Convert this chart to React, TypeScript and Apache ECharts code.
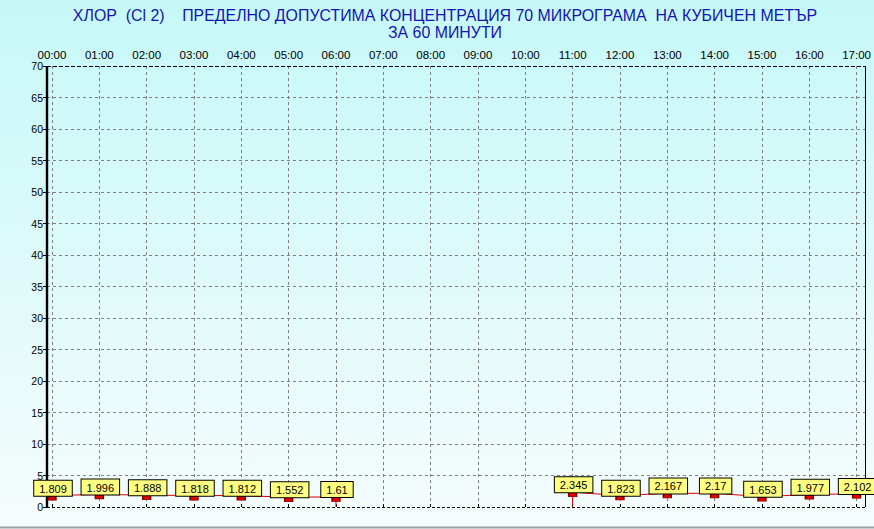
import React, { useEffect, useRef } from 'react';
import * as echarts from 'echarts';

const hourLabels = [
  '00:00', '01:00', '02:00', '03:00', '04:00', '05:00', '06:00', '07:00', '08:00',
  '09:00', '10:00', '11:00', '12:00', '13:00', '14:00', '15:00', '16:00', '17:00',
];
const chlorine: (number | null)[] = [
  1.809, 1.996, 1.888, 1.818, 1.812, 1.552, 1.61, null, null, null, null,
  2.345, 1.823, 2.167, 2.17, 1.653, 1.977, 2.102,
];
const yMin = 0;
const yMax = 70;
const yStep = 5;
const titleLine1 = 'ХЛОР  (Cl 2)    ПРЕДЕЛНО ДОПУСТИМА КОНЦЕНТРАЦИЯ 70 МИКРОГРАМА  НА КУБИЧЕН МЕТЪР';
const titleLine2 = 'ЗА 60 МИНУТИ';

const W = 874;
const H = 529;
const PL = 47, PR = 865, PT = 66, PB = 507;

export default function App() {
  const ref = useRef<HTMLDivElement>(null);
  useEffect(() => {
    if (!ref.current) return;
    const chart = echarts.init(ref.current, undefined, { renderer: 'svg' });

    const n = chlorine.length;
    const lineData: any[] = [];
    chlorine.forEach((v, i) => {
      if (v == null) {
        if (i > 0 && chlorine[i - 1] != null) lineData.push([i - 1, 0]);
        lineData.push([i, '-']);
        if (i < n - 1 && chlorine[i + 1] != null) lineData.push([i + 1, 0]);
      } else {
        lineData.push([i, v]);
      }
    });
    const pointData = chlorine
      .map((v, i) => (v == null ? null : [i, v]))
      .filter((d) => d != null);

    const axisFont = "'Liberation Sans Narrow', 'Arial Narrow', Arial, 'Liberation Sans', sans-serif";
    const sans = "Arial, 'Liberation Sans', sans-serif";

    chart.setOption({
      animation: false,
      backgroundColor: 'transparent',
      grid: [
        { left: 52, right: 13, top: PT, bottom: H - PB },
        { left: PL, right: W - PR, top: PT, bottom: H - PB },
      ],
      xAxis: [
        {
          gridIndex: 0,
          type: 'value',
          position: 'top',
          min: 0,
          max: hourLabels.length - 1,
          interval: 1,
          axisLine: { show: false },
          axisTick: { show: true, length: 3, lineStyle: { color: '#000' } },
          axisLabel: {
            formatter: (v: number) => hourLabels[v] ?? '',
            fontSize: 11.5,
            fontFamily: axisFont,
            color: '#000',
            margin: 5,
          },
          splitLine: { show: true, lineStyle: { color: '#808080', type: [3, 3], width: 1 } },
        },
        { gridIndex: 1, type: 'value', min: 0, max: 1, show: false },
      ],
      yAxis: [
        { gridIndex: 0, type: 'value', min: yMin, max: yMax, show: false },
        {
          gridIndex: 1,
          type: 'value',
          min: yMin,
          max: yMax,
          interval: yStep,
          axisLine: { show: false },
          axisTick: { show: true, length: 4, lineStyle: { color: '#000' } },
          axisLabel: { fontSize: 10.5, fontFamily: sans, color: '#000', margin: 4 },
          splitLine: {
            show: true,
            showMinLine: false,
            showMaxLine: false,
            lineStyle: { color: '#808080', type: [3, 3], width: 1 },
          },
        },
      ],
      graphic: [
        {
          type: 'text',
          x: 445,
          y: 15.5,
          z: 100,
          style: {
            text: titleLine1,
            fill: '#1414B4',
            fontSize: 15.9,
            fontFamily: sans,
            align: 'center',
            verticalAlign: 'middle',
          },
        },
        {
          type: 'text',
          x: 445,
          y: 32,
          z: 100,
          style: {
            text: titleLine2,
            fill: '#1414B4',
            fontSize: 15.9,
            fontFamily: sans,
            align: 'center',
            verticalAlign: 'middle',
          },
        },
        {
          type: 'line',
          z: 1,
          shape: { x1: PL, y1: PT + 0.5, x2: PR, y2: PT + 0.5 },
          style: { stroke: '#000', lineWidth: 1.2, lineDash: [4, 2] },
        },
        {
          type: 'line',
          z: 1,
          shape: { x1: PL, y1: PB + 0.5, x2: PR, y2: PB + 0.5 },
          style: { stroke: '#000', lineWidth: 1, lineDash: [3, 2] },
        },
        {
          type: 'line',
          z: 1,
          shape: { x1: PR + 0.5, y1: PT, x2: PR + 0.5, y2: PB },
          style: { stroke: '#000', lineWidth: 1 },
        },
        {
          type: 'line',
          z: 1,
          shape: { x1: PL, y1: PT, x2: PL, y2: PB + 1 },
          style: { stroke: '#000', lineWidth: 2.4 },
        },
        {
          type: 'rect',
          z: 100,
          shape: { x: 0, y: 526.5, width: W, height: 2 },
          style: { fill: '#A0A0A0' },
        },
      ],
      series: [
        {
          type: 'line',
          xAxisIndex: 0,
          yAxisIndex: 0,
          data: lineData,
          showSymbol: false,
          connectNulls: false,
          lineStyle: { color: '#E00000', width: 1 },
          z: 2,
        },
        {
          type: 'scatter',
          xAxisIndex: 0,
          yAxisIndex: 0,
          data: pointData,
          symbol: 'rect',
          symbolSize: [8, 4],
          symbolOffset: [0, 2.5],
          itemStyle: { color: '#E00000', borderColor: '#800000', borderWidth: 1, opacity: 1 },
          z: 5,
          label: {
            show: true,
            position: 'top',
            distance: 0,
            formatter: (p: any) => String(p.value[1]),
            fontSize: 11,
            fontFamily: sans,
            color: '#000',
            backgroundColor: '#FFFF80',
            borderColor: '#000',
            borderWidth: 1,
            padding: [2, 5, 1, 5],
            lineHeight: 12,
            offset: [1, 0],
          },
        },
      ],
    });
    return () => chart.dispose();
  }, []);

  return (
    <div
      ref={ref}
      style={{
        position: 'fixed',
        left: 0,
        top: 0,
        width: W,
        height: H,
        background: 'linear-gradient(#C6F8F8, #F6FCFC)',
      }}
    />
  );
}
